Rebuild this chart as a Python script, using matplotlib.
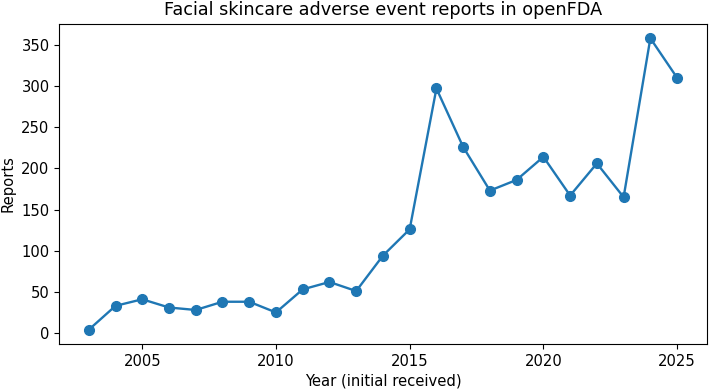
import matplotlib
matplotlib.use("Agg")
import matplotlib.pyplot as plt

years = list(range(2003, 2026))
reports = [4, 33, 41, 31, 28, 38, 38, 25, 53, 62, 51, 94, 126,
           297, 226, 173, 186, 214, 167, 206, 165, 358, 310]

plt.rcParams['font.size'] = 10.6

fig, ax = plt.subplots(figsize=(7.09, 3.91), dpi=100)
ax.plot(years, reports, marker='o', color='#1f77b4', linewidth=1.7, markersize=7)
ax.set_title('Facial skincare adverse event reports in openFDA')
ax.set_xlabel('Year (initial received)', labelpad=3)
ax.set_ylabel('Reports')
fig.subplots_adjust(left=0.0837, right=0.9965, top=0.9394, bottom=0.1194)
fig.savefig('out.png')
